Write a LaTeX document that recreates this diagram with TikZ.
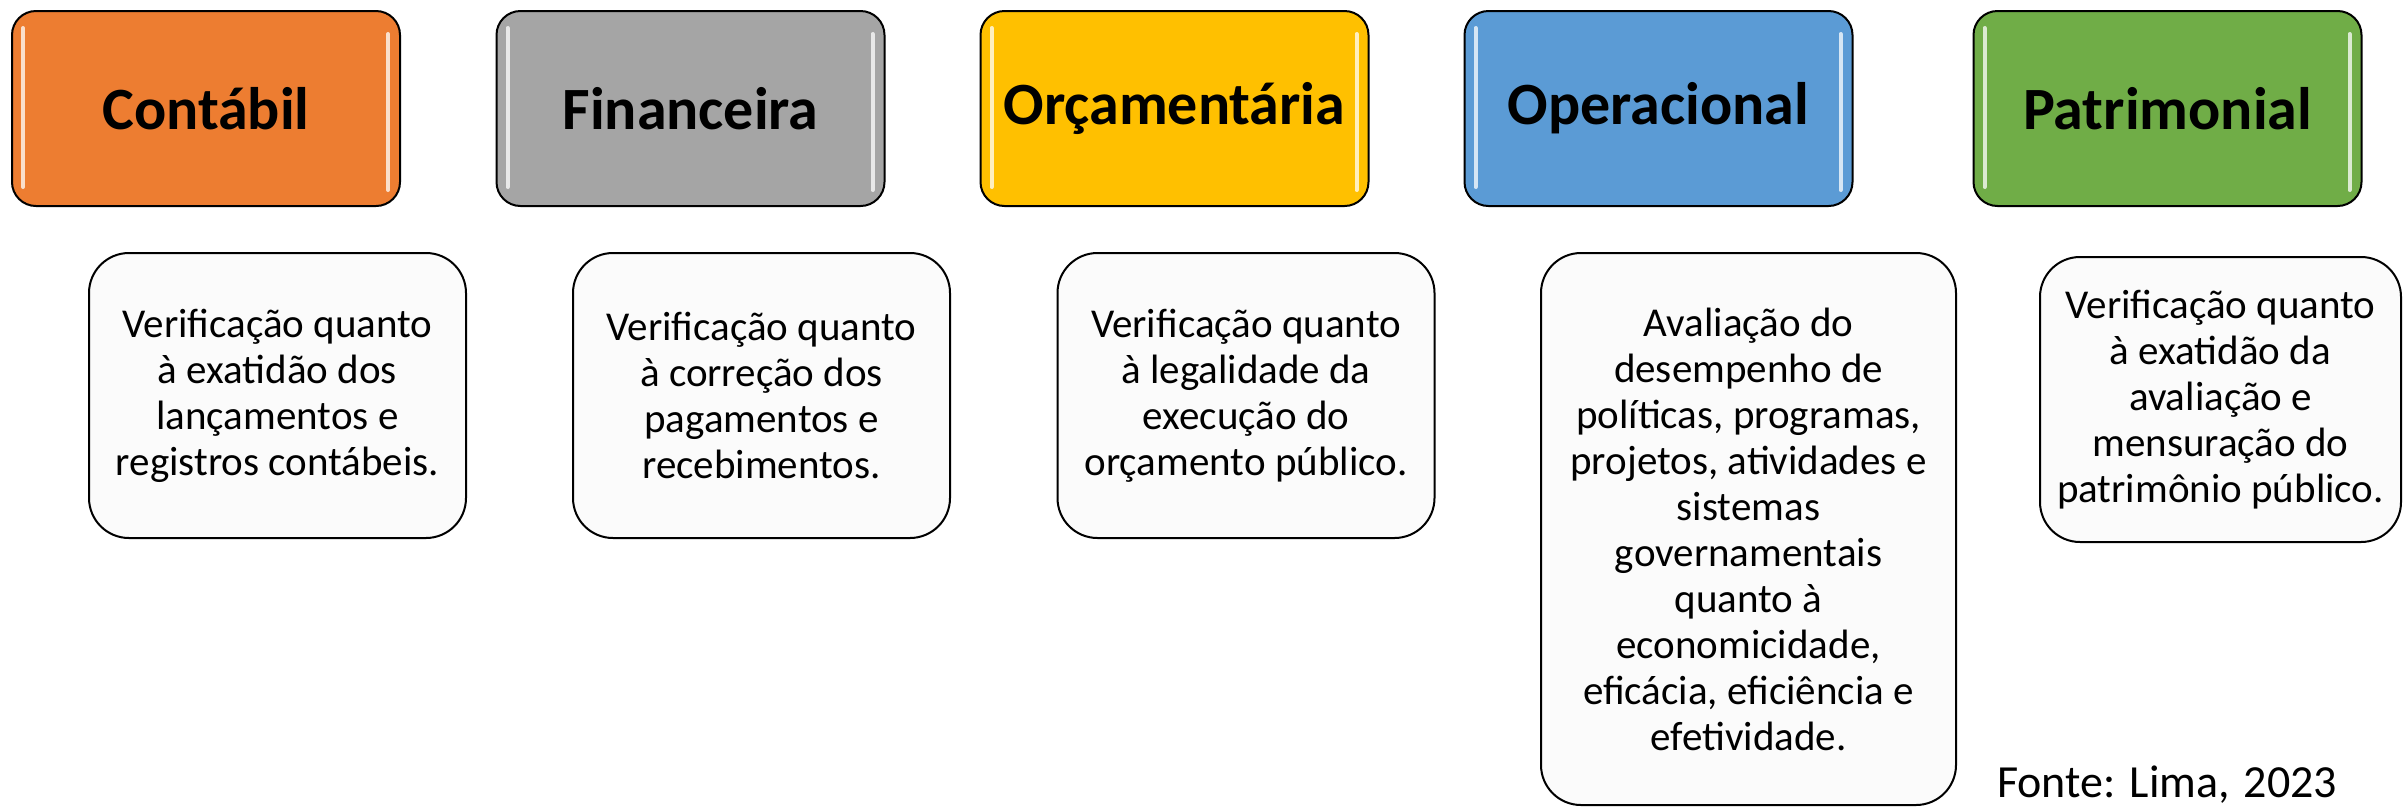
\documentclass[tikz,border=0pt]{standalone}
\usepackage{fontspec}
\setmainfont{Carlito}
\usetikzlibrary{backgrounds}
\definecolor{cOrange}{HTML}{ED7D31}
\definecolor{cGray}{HTML}{A5A5A5}
\definecolor{cGold}{HTML}{FFC000}
\definecolor{cBlue}{HTML}{5B9BD5}
\definecolor{cGreen}{HTML}{70AD47}
\definecolor{cPanel}{HTML}{FBFBFB}
\begin{document}
\begin{tikzpicture}[x=1pt,y=-1pt,
  hdr/.style={draw=black, line width=2pt, rounded corners=24pt,
    minimum width=388pt, minimum height=195pt, inner sep=0pt,
    font=\fontsize{60}{72}\selectfont\bfseries},
  panel/.style={draw=black, line width=2pt, rounded corners=40pt,
    fill=cPanel, align=center, inner sep=0pt,
    font=\fontsize{41}{46}\selectfont},
  conn/.style={draw=cOrange, line width=2pt},
  glare/.style={line width=4pt, line cap=round},
  srcnote/.style={anchor=base west, inner sep=0pt, font=\fontsize{46}{54}\selectfont}
]
\useasboundingbox (0,0) rectangle (2404,807);
\fill[white] (0,0) rectangle (2404,807);

% header boxes
\node[hdr, fill=cOrange] (h1) at (206,108.5) {Contábil};
\node[hdr, fill=cGray]   (h2) at (690.5,108.5) {Financeira};
\node[hdr, fill=cGold]   (h3) at (1174.5,108.5) {Orçamentária};
\node[hdr, fill=cBlue]   (h4) at (1658.5,108.5) {Operacional};
\node[hdr, fill=cGreen]  (h5) at (2167.5,108.5) {Patrimonial};

% glare streaks
\foreach \n/\c in {h1/cOrange,h2/cGray,h3/cGold,h4/cBlue,h5/cGreen}{
  \draw[glare, draw=\c!25!white] ([xshift=12pt,yshift=-18pt]\n.north west) -- ([xshift=12pt,yshift=20pt]\n.south west);
  \draw[glare, draw=\c!25!white] ([xshift=-13pt,yshift=-24pt]\n.north east) -- ([xshift=-13pt,yshift=17pt]\n.south east);
}

% detail panels
\node[panel, minimum width=377pt, minimum height=285pt] (d1) at (277.5,395.5)
  {Verificação quanto\\à exatidão dos\\lançamentos e\\registros contábeis.};
\node[panel, minimum width=377pt, minimum height=285pt] (d2) at (761.5,395.5)
  {Verificação quanto\\à correção dos\\pagamentos e\\recebimentos.};
\node[panel, minimum width=377pt, minimum height=285pt] (d3) at (1246,395.5)
  {Verificação quanto\\à legalidade da\\execução do\\orçamento público.};
\node[panel, minimum width=415pt, minimum height=552pt] (d4) at (1748.5,529)
  {Avaliação do\\desempenho de\\políticas, programas,\\projetos, atividades e\\sistemas\\governamentais\\quanto à\\economicidade,\\eficácia, eficiência e\\efetividade.};
\node[panel, minimum width=361pt, minimum height=285pt] (d5) at (2220.5,399.5)
  {Verificação quanto\\à exatidão da\\avaliação e\\mensuração do\\patrimônio público.};

% connectors
\begin{scope}[on background layer]
\draw[conn] ([xshift=40pt]h1.south west) |- (d1.west);
\draw[conn] ([xshift=41pt]h2.south west) |- (d2.west);
\draw[conn] ([xshift=40pt]h3.south west) |- (d3.west);
\draw[conn] ([xshift=40pt]h4.south west) |- (d4.west);
\draw[conn] ([xshift=40pt]h5.south west) |- (d5.west);
\end{scope}

\node[srcnote] (src) at (1997,797) {Fonte:\hspace{14pt}Lima,\hspace{14pt}2023};
\end{tikzpicture}
\end{document}
